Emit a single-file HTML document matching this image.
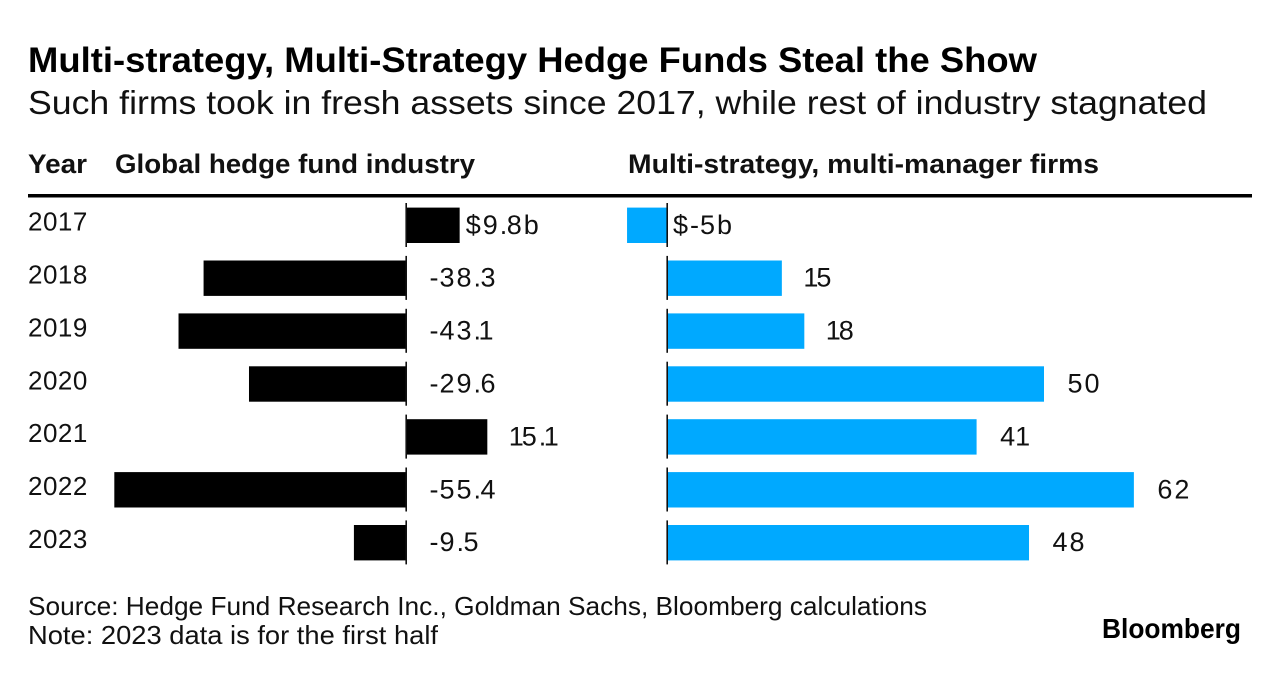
<!DOCTYPE html>
<html lang="en">
<head>
<meta charset="utf-8">
<title>Multi-strategy, Multi-Strategy Hedge Funds Steal the Show</title>
<style>
html,body{margin:0;padding:0;background:#fff;width:1280px;height:674px;overflow:hidden}
svg{display:block;font-family:"Liberation Sans",sans-serif}
text{fill:#111}
</style>
</head>
<body>
<svg id="chart" width="1280" height="674" viewBox="0 0 1280 674" xmlns="http://www.w3.org/2000/svg">
  <rect width="1280" height="674" fill="#fff"/>
  <text x="28" y="72" font-size="35" font-weight="700" textLength="1009" lengthAdjust="spacingAndGlyphs" style="fill:#000">Multi-strategy, Multi-Strategy Hedge Funds Steal the Show</text>
  <text x="28" y="114" font-size="33" textLength="1179" lengthAdjust="spacingAndGlyphs">Such firms took in fresh assets since 2017, while rest of industry stagnated</text>
  <text x="28" y="173" font-size="27" font-weight="700" textLength="59" lengthAdjust="spacingAndGlyphs">Year</text>
  <text x="115" y="173" font-size="27" font-weight="700" textLength="360" lengthAdjust="spacingAndGlyphs">Global hedge fund industry</text>
  <text x="628" y="173" font-size="27" font-weight="700" textLength="471" lengthAdjust="spacingAndGlyphs">Multi-strategy, multi-manager firms</text>
  <rect x="28" y="194" width="1224" height="3.5" fill="#000"/>
  <g id="rows"></g>
  <text x="28" y="615" font-size="26" textLength="899" lengthAdjust="spacingAndGlyphs">Source: Hedge Fund Research Inc., Goldman Sachs, Bloomberg calculations</text>
  <text x="28" y="644" font-size="26" textLength="410" lengthAdjust="spacingAndGlyphs">Note: 2023 data is for the first half</text>
  <text x="1102" y="638" font-size="28" font-weight="700" textLength="139" lengthAdjust="spacingAndGlyphs" style="fill:#000">Bloomberg</text>
</svg>
<script>
const years = ['2017', '2018', '2019', '2020', '2021', '2022', '2023'];
const industryValues = [9.8, -38.3, -43.1, -29.6, 15.1, -55.4, -9.5];
const multiValues = [-5, 15, 18, 50, 41, 62, 48];
const industryLabels = ['$9.8b', '-38.3', '-43.1', '-29.6', '15.1', '-55.4', '-9.5'];
const multiLabels = ['$-5b', '15', '18', '50', '41', '62', '48'];

const NS = 'http://www.w3.org/2000/svg';
const rowsGroup = document.getElementById('rows');
const ROW_TOP = 207.6, ROW_STEP = 52.9, BAR_H = 35.4;
const xLeft = v => 406 + v * 5.22 + Math.sign(v) * 2.5;
const xRight = v => 667 + v * 7.49 + Math.sign(v) * 2.5;
const rowY = i => ROW_TOP + i * ROW_STEP;

function make(tag, attrs, parent) {
  const el = document.createElementNS(NS, tag);
  for (const k in attrs) el.setAttribute(k, attrs[k]);
  parent.appendChild(el);
  return el;
}

/* The reference typeface has wider digits and a narrow "1": place glyphs one by one. */
function glyphXs(str, startX) {
  let x = startX;
  const out = [];
  for (const ch of str) {
    if (ch === '1') { out.push((x - 2).toFixed(1)); x += 11; }
    else if (ch === '-') { out.push(x.toFixed(1)); x += 10; }
    else if (ch === '.') { out.push(x.toFixed(1)); x += 7; }
    else { out.push(x.toFixed(1)); x += 17; }
  }
  return out.join(' ');
}

function drawSeries(values, labels, scale, color, prefix) {
  values.forEach((v, i) => {
    const zero = scale(0), end = scale(v), y = rowY(i);
    const bar = make('rect', { x: Math.min(zero, end), y: y, width: Math.abs(end - zero), height: BAR_H, fill: color }, rowsGroup);
    
    
    const tick = make('rect', { x: zero - 0.6, y: y - 4.6, width: 1.6, height: 44, fill: '#111' }, rowsGroup);
    
    
    const offset = i === 0 ? 6 : 23.5;
    const lx = Math.max(zero, end) + offset;
    const label = make('text', { x: glyphXs(labels[i], lx), y: y + 26.2, 'font-size': 27 }, rowsGroup);
    
    
    label.textContent = labels[i];
  });
}

years.forEach((yr, i) => {
  const t = make('text', { x: 28, y: rowY(i) + 23, 'font-size': 26, 'letter-spacing': 0.5 }, rowsGroup);
  
  
  t.textContent = yr;
});
drawSeries(industryValues, industryLabels, xLeft, '#000', 'industry');
drawSeries(multiValues, multiLabels, xRight, '#00a9ff', 'multi-strategy');
</script>
</body>
</html>
